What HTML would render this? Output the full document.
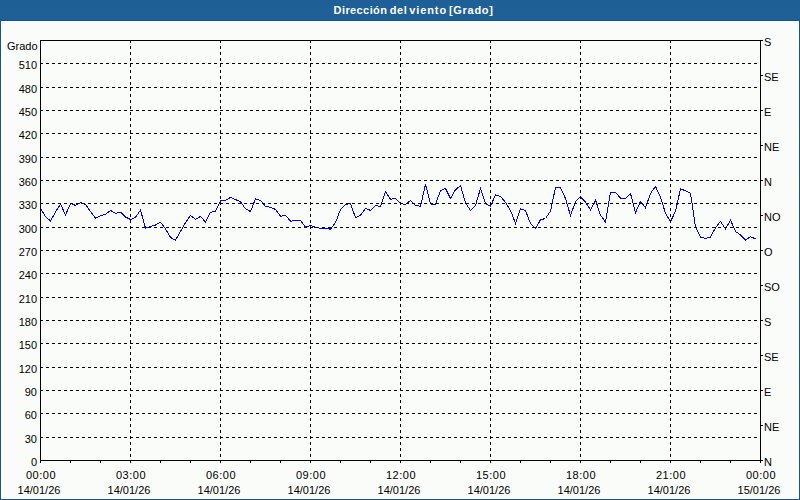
<!DOCTYPE html>
<html><head><meta charset="utf-8"><title>Dirección del viento</title>
<style>html,body{margin:0;padding:0;width:800px;height:500px;overflow:hidden;background:#fafcfa;}svg{display:block}</style>
</head><body>
<svg width="800" height="500" viewBox="0 0 800 500" shape-rendering="crispEdges">
<rect x="0" y="0" width="800" height="500" fill="#fafcfa"/>
<defs><pattern id="dp" x="0" y="0" width="8" height="20" patternUnits="userSpaceOnUse"><rect width="8" height="20" fill="#1e5f94"/><path d="M4 0h1v1h-1zM0 1h1v1h-1zM3 2h1v1h-1zM6 2h1v1h-1zM7 4h1v1h-1zM1 5h1v1h-1zM4 5h1v1h-1zM7 7h1v1h-1zM3 8h1v1h-1zM1 9h1v1h-1zM5 9h1v1h-1zM0 11h1v1h-1zM4 11h1v1h-1zM2 13h1v1h-1zM6 13h1v1h-1zM1 15h1v1h-1zM5 15h1v1h-1zM0 17h1v1h-1zM4 17h1v1h-1zM2 19h1v1h-1zM6 19h1v1h-1z" fill="#2461ab"/></pattern></defs>
<rect x="0" y="0" width="800" height="20" fill="url(#dp)"/>
<rect x="0" y="20" width="800" height="480" fill="#0f578e"/>
<rect x="1" y="21" width="798" height="478" fill="#ffffff"/>
<rect x="2" y="22" width="796" height="476" fill="#fafcfa"/>
<path d="M40.5 208.5 L45.5 216.5 L50.5 221.0 L55.5 212.0 L60.5 204 L65.5 215.0 L70.5 203.5 L75.5 205.4 L80.5 202.6 L85.5 204.6 L90.5 211.4 L95.5 218.2 L100.5 215.6 L105.5 214.2 L110.5 210.4 L115.5 213.4 L120.5 212.2 L125.5 217.0 L130.5 219.5 L135.5 217.4 L140.5 210 L145.5 228.2 L150.5 226.6 L155.5 225 L160.5 222.2 L165.5 229.0 L170.5 237.4 L175.5 240.2 L180.5 231.4 L185.5 222.8 L190.5 215.4 L195.5 219.4 L200.5 216.4 L205.5 222.0 L210.5 212.4 L215.5 211.2 L220.5 201.0 L225.5 200.4 L230.5 197.4 L235.5 199.6 L240.5 201.7 L245.5 208.8 L250.5 211.5 L255.5 198.8 L260.5 200.4 L265.5 206.4 L270.5 207.4 L275.5 209.4 L280.5 216.2 L285.5 215.4 L290.5 221.2 L295.5 220.4 L300.5 220.4 L305.5 227.0 L310.5 225.4 L315.5 227.4 L320.5 228.2 L325.5 228.2 L330.5 229.2 L335.5 222.6 L340.5 209.4 L345.5 204.6 L350.5 203.3 L355.5 217.8 L360.5 215.2 L365.5 208.4 L370.5 210.4 L375.5 205.6 L380.5 206.4 L385.5 191.6 L390.5 199.2 L395.5 198.4 L400.5 203.8 L405.5 204.2 L410.5 200.4 L415.5 205.2 L420.5 206.4 L425.5 184.4 L430.5 204.0 L435.5 204.2 L440.5 190.6 L445.5 188.4 L450.5 198.4 L455.5 189.8 L460.5 185.5 L465.5 203.0 L470.5 210.4 L475.5 205.6 L480.5 188.4 L485.5 203.6 L490.5 206.4 L495.5 194.8 L500.5 196.4 L505.5 202.4 L510.5 210.5 L515.5 223.3 L520.5 208.8 L525.5 210.5 L530.5 223.5 L535.5 228.5 L540.5 219.8 L545.5 218.5 L550.5 211.0 L555.5 187.5 L560.5 187.5 L565.5 198.7 L570.5 215.5 L575.5 201.6 L580.5 196.9 L585.5 202.0 L590.5 210.0 L595.5 200 L600.5 215.2 L605.5 222 L610.5 192.6 L615.5 192.4 L620.5 198.2 L625.5 198.4 L630.5 193.5 L635.5 212.8 L640.5 201.4 L645.5 207.8 L650.5 193.4 L655.5 186.4 L660.5 197.0 L665.5 213.3 L670.5 221.6 L675.5 211.3 L680.5 188.8 L685.5 190.8 L690.5 193.2 L695.5 227.2 L700.5 237.0 L705.5 238.5 L710.5 237 L715.5 227.8 L720.5 221.4 L725.5 229.0 L730.5 220 L735.5 231.4 L740.5 235.0 L745.5 240.2 L750.5 236.6 L755.5 239" stroke="#0000ff" stroke-width="1" fill="none" shape-rendering="crispEdges"/>
<path d="M40 437.5H760 M40 413.5H760 M40 390.5H760 M40 367.5H760 M40 343.5H760 M40 320.5H760 M40 297.5H760 M40 273.5H760 M40 250.5H760 M40 227.5H760 M40 203.5H760 M40 180.5H760 M40 157.5H760 M40 133.5H760 M40 110.5H760 M40 87.5H760 M40 63.5H760 M130.5 40V460 M220.5 40V460 M310.5 40V460 M400.5 40V460 M490.5 40V460 M580.5 40V460 M670.5 40V460" stroke="#000" stroke-width="1" stroke-dasharray="3 3" fill="none"/>
<path d="M40.5 40V463 M760.5 40V463 M40 40.5H763 M40 460.5H763 M40.5 460V463 M70.5 460V463 M100.5 460V463 M130.5 460V463 M160.5 460V463 M190.5 460V463 M220.5 460V463 M250.5 460V463 M280.5 460V463 M310.5 460V463 M340.5 460V463 M370.5 460V463 M400.5 460V463 M430.5 460V463 M460.5 460V463 M490.5 460V463 M520.5 460V463 M550.5 460V463 M580.5 460V463 M610.5 460V463 M640.5 460V463 M670.5 460V463 M700.5 460V463 M730.5 460V463 M760.5 460V463 M760 40.5H763 M760 75.5H763 M760 110.5H763 M760 145.5H763 M760 180.5H763 M760 215.5H763 M760 250.5H763 M760 285.5H763 M760 320.5H763 M760 355.5H763 M760 390.5H763 M760 425.5H763 M760 460.5H763" stroke="#000" stroke-width="1" fill="none"/>
<g style="font-family:&quot;Liberation Sans&quot;, sans-serif" font-size="11" fill="#000"><text x="37.5" y="50" text-anchor="end">Grado</text><text x="37" y="466" text-anchor="end">0</text><text x="37" y="443" text-anchor="end">30</text><text x="37" y="419" text-anchor="end">60</text><text x="37" y="396" text-anchor="end">90</text><text x="37" y="373" text-anchor="end">120</text><text x="37" y="349" text-anchor="end">150</text><text x="37" y="326" text-anchor="end">180</text><text x="37" y="303" text-anchor="end">210</text><text x="37" y="279" text-anchor="end">240</text><text x="37" y="256" text-anchor="end">270</text><text x="37" y="233" text-anchor="end">300</text><text x="37" y="209" text-anchor="end">330</text><text x="37" y="186" text-anchor="end">360</text><text x="37" y="163" text-anchor="end">390</text><text x="37" y="139" text-anchor="end">420</text><text x="37" y="116" text-anchor="end">450</text><text x="37" y="93" text-anchor="end">480</text><text x="37" y="69" text-anchor="end">510</text><text x="764" y="46">S</text><text x="764" y="81">SE</text><text x="764" y="116">E</text><text x="764" y="151">NE</text><text x="764" y="186">N</text><text x="764" y="221">NO</text><text x="764" y="256">O</text><text x="764" y="291">SO</text><text x="764" y="326">S</text><text x="764" y="361">SE</text><text x="764" y="396">E</text><text x="764" y="431">NE</text><text x="764" y="466">N</text><text x="41" y="479" text-anchor="middle" letter-spacing="0.5">00:00</text><text x="39" y="494" text-anchor="middle" letter-spacing="0">14/01/26</text><text x="131" y="479" text-anchor="middle" letter-spacing="0.5">03:00</text><text x="129" y="494" text-anchor="middle" letter-spacing="0">14/01/26</text><text x="221" y="479" text-anchor="middle" letter-spacing="0.5">06:00</text><text x="219" y="494" text-anchor="middle" letter-spacing="0">14/01/26</text><text x="311" y="479" text-anchor="middle" letter-spacing="0.5">09:00</text><text x="309" y="494" text-anchor="middle" letter-spacing="0">14/01/26</text><text x="401" y="479" text-anchor="middle" letter-spacing="0.5">12:00</text><text x="399" y="494" text-anchor="middle" letter-spacing="0">14/01/26</text><text x="491" y="479" text-anchor="middle" letter-spacing="0.5">15:00</text><text x="489" y="494" text-anchor="middle" letter-spacing="0">14/01/26</text><text x="581" y="479" text-anchor="middle" letter-spacing="0.5">18:00</text><text x="579" y="494" text-anchor="middle" letter-spacing="0">14/01/26</text><text x="671" y="479" text-anchor="middle" letter-spacing="0.5">21:00</text><text x="669" y="494" text-anchor="middle" letter-spacing="0">14/01/26</text><text x="761" y="479" text-anchor="middle" letter-spacing="0.5">00:00</text><text x="759" y="494" text-anchor="middle" letter-spacing="0">15/01/26</text></g>
<g style="font-family:&quot;Liberation Sans&quot;, sans-serif" font-size="11" font-weight="bold" fill="#fff"><text x="333.6" y="14" letter-spacing="0.4">Dirección</text><text x="389.75" y="14" letter-spacing="0.6">del</text><text x="409.25" y="14" letter-spacing="0.9">viento</text><text x="449" y="14" letter-spacing="0.7">[Grado]</text></g>
</svg>
</body></html>
